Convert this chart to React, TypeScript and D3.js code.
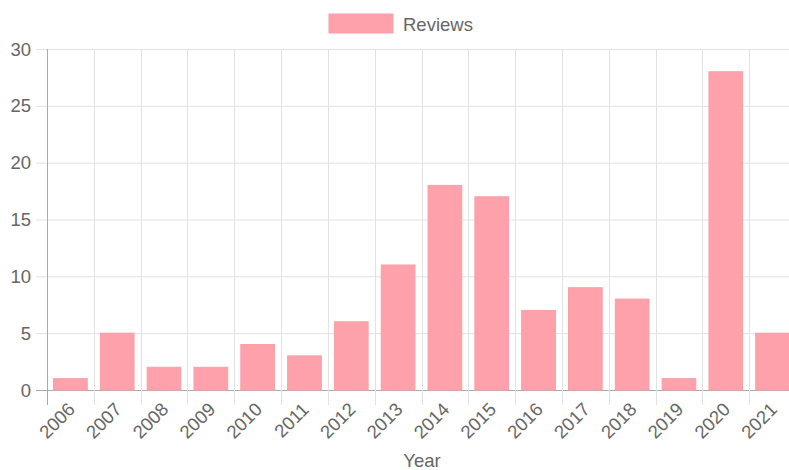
import React from 'react';
import * as d3 from 'd3';

const years = ['2006', '2007', '2008', '2009', '2010', '2011', '2012', '2013', '2014', '2015', '2016', '2017', '2018', '2019', '2020', '2021'];
const reviews = [1, 5, 2, 2, 4, 3, 6, 11, 18, 17, 7, 9, 8, 1, 28, 5];
const yTicks = [0, 5, 10, 15, 20, 25, 30];

const W = 789;
const H = 470;
const LEFT = 47;
const RIGHT = 796;
const TOP = 49;
const BOTTOM = 390;
const FONT = '"Liberation Sans", Arial, Helvetica, sans-serif';
const TEXT = '#666';
const GRID = '#e2e2e2';

export default function App() {
  const x = d3.scaleBand<string>().domain(years).range([LEFT, RIGHT]);
  const y = d3.scaleLinear().domain([0, 30]).range([BOTTOM, TOP]);
  const bw = x.bandwidth() * 0.72;
  const bounds = years.map((yr) => x(yr) as number).concat([RIGHT]);

  return (
    <svg
      width={W}
      height={H}
      style={{ position: 'absolute', left: 0, top: 0, fontFamily: FONT }}
    >
      {/* legend */}
      <rect x={329} y={14} width={64} height={19} fill="#ffa1aa" stroke="#f9a0a9" />
      <text x={403} y={24} fill={TEXT} fontSize={18.5} dominantBaseline="central">
        Reviews
      </text>

      {/* horizontal grid */}
      {yTicks.map((t) => (
        <g key={`y${t}`}>
          <line
            x1={LEFT - 11}
            x2={RIGHT}
            y1={y(t) + 0.5}
            y2={y(t) + 0.5}
            stroke={t === 0 ? '#aaa' : GRID}
          />
          <text
            x={31}
            y={y(t)}
            textAnchor="end"
            dominantBaseline="central"
            fill={TEXT}
            fontSize={18.5}
          >
            {t}
          </text>
        </g>
      ))}

      {/* vertical grid */}
      {bounds.map((bx, i) => (
        <line
          key={`v${i}`}
          x1={Math.round(bx) + 0.5}
          x2={Math.round(bx) + 0.5}
          y1={TOP}
          y2={BOTTOM + 15}
          stroke={i === 0 ? '#aaa' : GRID}
        />
      ))}

      {/* bars */}
      {years.map((yr, i) => {
        const cx = (x(yr) as number) + x.bandwidth() / 2;
        return (
          <rect
            key={yr}
            x={cx - bw / 2}
            y={y(reviews[i])}
            width={bw}
            height={BOTTOM - y(reviews[i])}
            fill="#ffa1aa"
            stroke="#f7a0a8"
            strokeWidth={1}
          />
        );
      })}

      {/* x labels */}
      {years.map((yr) => {
        const cx = (x(yr) as number) + x.bandwidth() / 2;
        return (
          <text
            key={`l${yr}`}
            transform={`translate(${cx + 1},${BOTTOM + 16}) rotate(-45)`}
            textAnchor="end"
            dominantBaseline="central"
            fill={TEXT}
            fontSize={18.5}
          >
            {yr}
          </text>
        );
      })}

      <text x={422} y={460} textAnchor="middle" dominantBaseline="central" fill={TEXT} fontSize={18.5}>
        Year
      </text>
    </svg>
  );
}
